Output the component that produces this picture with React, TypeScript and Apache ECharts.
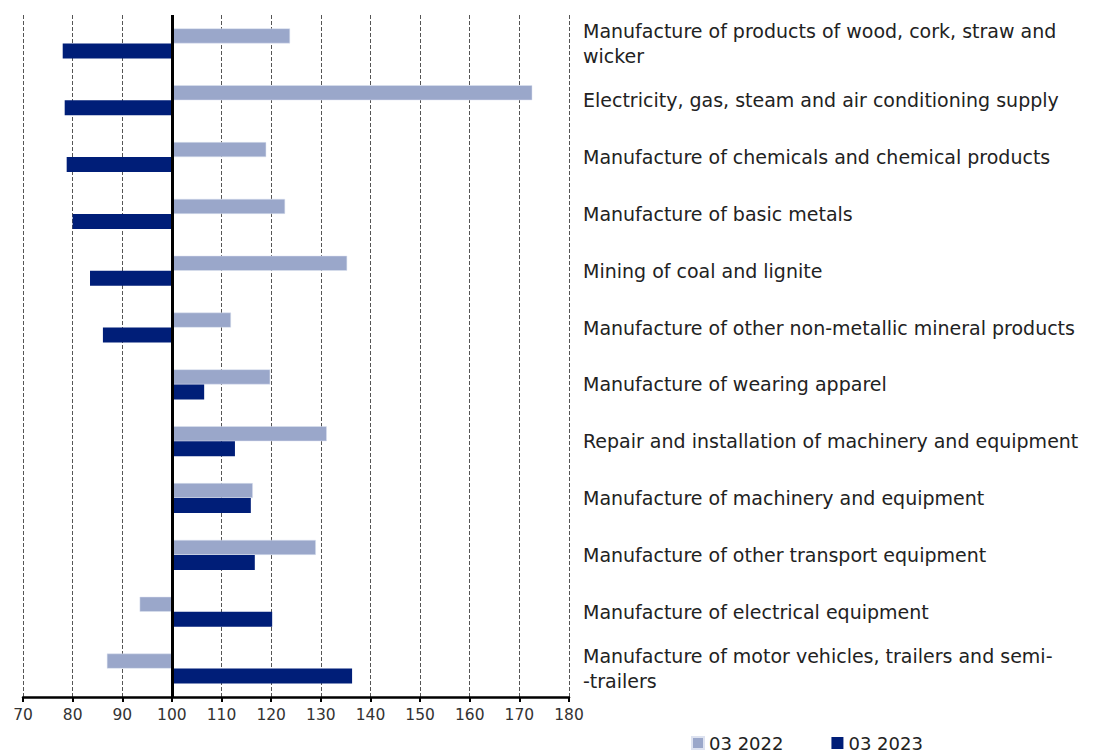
import React, { useEffect, useRef } from "react";
import * as echarts from "echarts";

const categories = [
  "Manufacture of products of wood, cork, straw and\nwicker",
  "Electricity, gas, steam and air conditioning supply",
  "Manufacture of chemicals and chemical products",
  "Manufacture of basic metals",
  "Mining of coal and lignite",
  "Manufacture of other non-metallic mineral products",
  "Manufacture of wearing apparel",
  "Repair and installation of machinery and equipment",
  "Manufacture of machinery and equipment",
  "Manufacture of other transport equipment",
  "Manufacture of electrical equipment",
  "Manufacture of motor vehicles, trailers and semi-\n-trailers",
];

const values2022 = [123.8, 172.6, 119.0, 122.8, 135.3, 111.9, 119.8, 131.2, 116.3, 129.0, 93.5, 86.9];
const values2023 = [78.0, 78.4, 78.8, 80.0, 83.5, 86.1, 106.5, 112.7, 115.9, 116.7, 120.2, 136.3];

const BASE = 100;
const AXIS_MIN = 70;
const AXIS_MAX = 180;
const AXIS_STEP = 10;

const seriesNames = ["03 2022", "03 2023"];
const colors = ["#9AA7CA", "#001E78"];

const FONT = "DejaVu Sans";

export default function App() {
  const ref = useRef<HTMLDivElement>(null);
  useEffect(() => {
    if (!ref.current) return;
    const chart = echarts.init(ref.current, null, { renderer: "svg" });
    chart.setOption({
      animation: false,
      textStyle: { fontFamily: FONT },
      grid: { left: 23, right: 525, top: 15, bottom: 59, containLabel: false },
      legend: {
        data: seriesNames,
        left: 686,
        top: 729,
        itemWidth: 12,
        itemHeight: 12,
        itemGap: 48,
        icon: "rect",
        textStyle: { fontSize: 18, color: "#222", fontFamily: FONT },
      },
      xAxis: {
        type: "value",
        min: AXIS_MIN - BASE,
        max: AXIS_MAX - BASE,
        interval: AXIS_STEP,
        axisLine: { show: true, onZero: false, lineStyle: { color: "#000", width: 2.5 } },
        axisTick: { show: true, length: 5, lineStyle: { color: "#000", width: 2 } },
        axisLabel: {
          formatter: (v: number) => String(v + BASE),
          fontSize: 15.5,
          color: "#333",
          margin: 10,
          fontFamily: FONT,
        },
        splitLine: { show: true, lineStyle: { type: "dashed", color: "#555", width: 1 } },
      },
      yAxis: {
        type: "category",
        data: categories,
        inverse: true,
        position: "right",
        axisLine: { show: false, onZero: false },
        axisTick: { show: false },
        axisLabel: {
          align: "left",
          margin: 14,
          fontSize: 19,
          lineHeight: 25,
          color: "#222",
          fontFamily: FONT,
        },
        splitLine: { show: false },
      },
      series: [
        {
          name: seriesNames[0],
          type: "bar",
          data: values2022.map((v) => v - BASE),
          barWidth: 15,
          barGap: "0%",
          itemStyle: { color: colors[0], borderColor: "#DDE2F0", borderWidth: 0.5 },
          markLine: {
            silent: true,
            symbol: "none",
            label: { show: false },
            lineStyle: { color: "#000", width: 3, type: "solid" },
            data: [{ xAxis: 0 }],
          },
        },
        {
          name: seriesNames[1],
          type: "bar",
          data: values2023.map((v) => v - BASE),
          barWidth: 15,
          barGap: "0%",
          itemStyle: { color: colors[1] },
        },
      ],
    });
    return () => chart.dispose();
  }, []);
  return (
    <div
      ref={ref}
      style={{ position: "fixed", left: 0, top: 0, width: 1094, height: 756, background: "#fff" }}
    />
  );
}
